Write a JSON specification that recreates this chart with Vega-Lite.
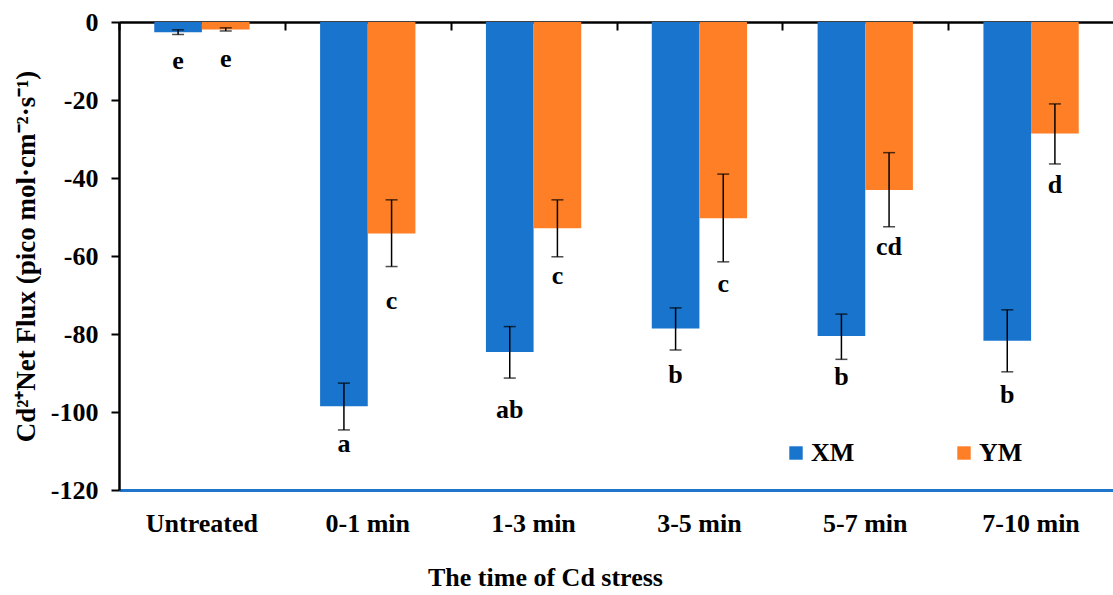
{
  "$schema": "https://vega.github.io/schema/vega-lite/v6.json",
  "width": 995,
  "height": 468,
  "autosize": {"type": "none"},
  "padding": {"left": 119, "top": 22, "right": 0, "bottom": 105},
  "background": "white",
  "config": {
    "view": {"stroke": null},
    "font": "Liberation Serif"
  },
  "data": {
    "values": [
      {"time": "Untreated", "line": "XM", "mean": -2.6, "lo": -3.2, "hi": -2.0, "letter": "e", "label_y": -12.0},
      {"time": "Untreated", "line": "YM", "mean": -1.9, "lo": -2.3, "hi": -1.5, "letter": "e", "label_y": -11.5},
      {"time": "0-1 min", "line": "XM", "mean": -98.5, "lo": -104.6, "hi": -92.6, "letter": "a", "label_y": -110.3},
      {"time": "0-1 min", "line": "YM", "mean": -54.2, "lo": -62.7, "hi": -45.6, "letter": "c", "label_y": -73.6},
      {"time": "1-3 min", "line": "XM", "mean": -84.6, "lo": -91.3, "hi": -78.1, "letter": "ab", "label_y": -101.5},
      {"time": "1-3 min", "line": "YM", "mean": -52.9, "lo": -60.2, "hi": -45.6, "letter": "c", "label_y": -67.2},
      {"time": "3-5 min", "line": "XM", "mean": -78.6, "lo": -84.1, "hi": -73.3, "letter": "b", "label_y": -92.6},
      {"time": "3-5 min", "line": "YM", "mean": -50.3, "lo": -61.5, "hi": -39.0, "letter": "c", "label_y": -69.2},
      {"time": "5-7 min", "line": "XM", "mean": -80.5, "lo": -86.5, "hi": -74.9, "letter": "b", "label_y": -93.1},
      {"time": "5-7 min", "line": "YM", "mean": -43.1, "lo": -52.5, "hi": -33.5, "letter": "cd", "label_y": -59.7},
      {"time": "7-10 min", "line": "XM", "mean": -81.7, "lo": -89.7, "hi": -73.8, "letter": "b", "label_y": -97.7},
      {"time": "7-10 min", "line": "YM", "mean": -28.6, "lo": -36.4, "hi": -21.0, "letter": "d", "label_y": -43.8}
    ]
  },
  "resolve": {"axis": {"x": "independent"}},
  "layer": [
    {
      "mark": {"type": "bar"},
      "encoding": {
        "x": {
          "field": "time", "type": "nominal", "sort": null,
          "scale": {"paddingInner": 0, "paddingOuter": 0},
          "axis": {
            "orient": "bottom", "title": "The time of Cd stress",
            "domainColor": "#1F75C9", "domainWidth": 3,
            "ticks": false, "tickSize": 0, "labelAngle": 0,
            "labelFont": "Liberation Serif", "labelFontWeight": "bold", "labelFontSize": 26, "labelColor": "black",
            "labelBaseline": "alphabetic", "labelPadding": 41,
            "titleFont": "Liberation Serif", "titleFontWeight": "bold", "titleFontSize": 26, "titleColor": "black",
            "titleX": 426, "titleY": 95, "titleAlign": "center", "titleBaseline": "alphabetic"
          }
        },
        "xOffset": {"field": "line", "type": "nominal", "scale": {"paddingInner": 0, "paddingOuter": 0.74}},
        "y": {
          "field": "mean", "type": "quantitative",
          "title": "Cd²⁺Net Flux (pico mol·cm⁻²·s⁻¹)",
          "scale": {"domain": [-120, 0], "nice": false},
          "axis": {
            "values": [-120, -100, -80, -60, -40, -20, 0],
            "grid": false, "domainColor": "black", "domainWidth": 2.5,
            "tickColor": "black", "tickWidth": 2, "tickSize": 8,
            "labelExpr": "'' + datum.value",
            "labelFont": "Liberation Serif", "labelFontWeight": "bold", "labelFontSize": 26, "labelColor": "black",
            "labelPadding": 13,
            "titleFont": "Liberation Serif", "titleFontWeight": "bold", "titleFontSize": 27, "titleColor": "black",
            "titleX": -93, "titleY": 234, "titleAngle": -90, "titleAlign": "center", "titleBaseline": "middle"
          }
        },
        "color": {
          "field": "line", "type": "nominal",
          "scale": {"domain": ["XM", "YM"], "range": ["#1874CD", "#FF7F27"]},
          "legend": {
            "title": null, "orient": "none", "direction": "horizontal",
            "legendX": 664, "legendY": 418, "padding": 0,
            "symbolType": "square", "symbolSize": 180, "symbolStrokeWidth": 0,
            "labelFont": "Liberation Serif", "labelFontWeight": "bold", "labelFontSize": 26, "labelColor": "black",
            "labelOffset": 2, "columnPadding": 96
          }
        }
      }
    },
    {
      "mark": {"type": "rule", "color": "black", "strokeWidth": 1.5},
      "encoding": {
        "x": {"field": "time", "type": "nominal", "sort": null, "axis": null},
        "xOffset": {"field": "line", "type": "nominal"},
        "y": {"field": "lo", "type": "quantitative", "title": "Cd²⁺Net Flux (pico mol·cm⁻²·s⁻¹)"},
        "y2": {"field": "hi"}
      }
    },
    {
      "mark": {"type": "tick", "color": "black", "size": 12, "thickness": 1.5},
      "encoding": {
        "x": {"field": "time", "type": "nominal", "sort": null, "axis": null},
        "xOffset": {"field": "line", "type": "nominal"},
        "y": {"field": "lo", "type": "quantitative", "title": "Cd²⁺Net Flux (pico mol·cm⁻²·s⁻¹)"}
      }
    },
    {
      "mark": {"type": "tick", "color": "black", "size": 12, "thickness": 1.5},
      "encoding": {
        "x": {"field": "time", "type": "nominal", "sort": null, "axis": null},
        "xOffset": {"field": "line", "type": "nominal"},
        "y": {"field": "hi", "type": "quantitative", "title": "Cd²⁺Net Flux (pico mol·cm⁻²·s⁻¹)"}
      }
    },
    {
      "mark": {"type": "text", "font": "Liberation Serif", "fontWeight": "bold", "fontSize": 26, "color": "black", "baseline": "alphabetic", "align": "center"},
      "encoding": {
        "x": {
          "field": "time", "type": "nominal", "sort": null,
          "axis": {
            "orient": "top", "title": null, "labels": false,
            "domainColor": "black", "domainWidth": 2.5,
            "ticks": true, "tickBand": "extent", "tickSize": -8, "tickColor": "black", "tickWidth": 2
          }
        },
        "xOffset": {"field": "line", "type": "nominal"},
        "y": {"field": "label_y", "type": "quantitative", "title": "Cd²⁺Net Flux (pico mol·cm⁻²·s⁻¹)"},
        "text": {"field": "letter"}
      }
    }
  ]
}
